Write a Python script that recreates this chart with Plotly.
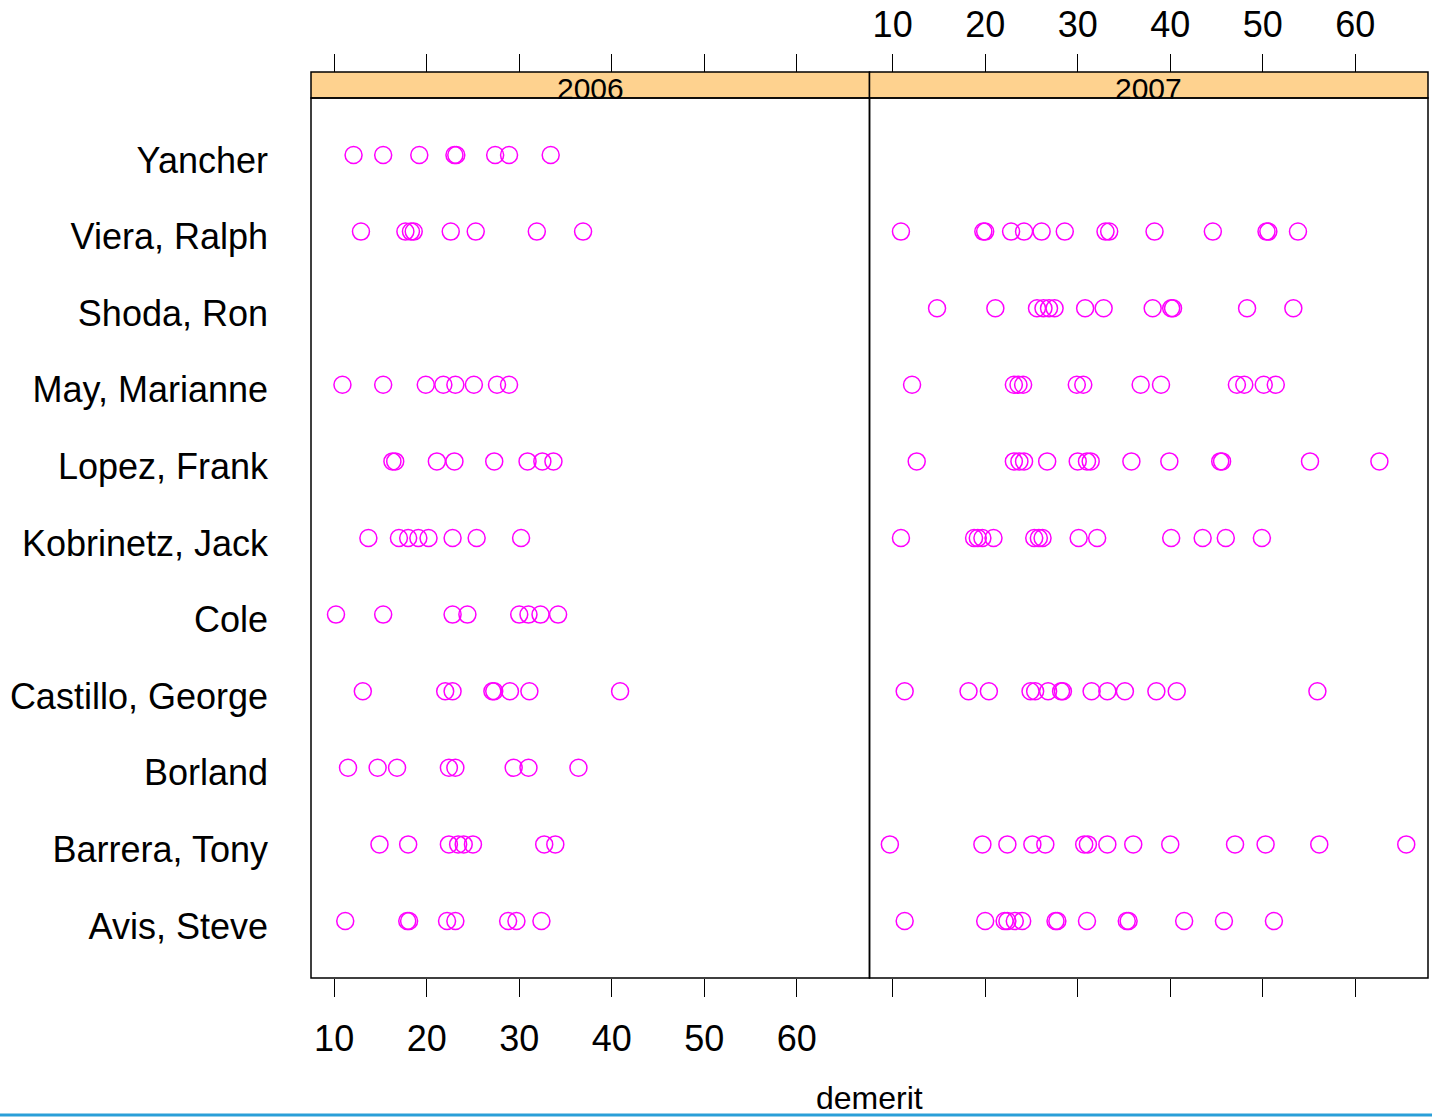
import plotly.graph_objects as go

# Inspector names, bottom row first
names = ["Avis, Steve", "Barrera, Tony", "Borland", "Castillo, George", "Cole",
         "Kobrinetz, Jack", "Lopez, Frank", "May, Marianne", "Shoda, Ron",
         "Viera, Ralph", "Yancher"]

# Demerit scores, 2006
avis_2006 = [11.2, 17.9, 18.1, 22.2, 23.1, 28.8, 29.7, 32.4]
barrera_2006 = [14.9, 18.0, 22.4, 23.4, 24.0, 25.0, 32.7, 33.9]
borland_2006 = [11.5, 14.7, 16.8, 22.4, 23.1, 29.4, 31.0, 36.4]
castillo_2006 = [13.1, 22.0, 22.8, 27.1, 27.3, 29.0, 31.1, 40.9]
cole_2006 = [10.2, 15.3, 22.8, 24.4, 30.0, 31.0, 32.3, 34.2]
kobrinetz_2006 = [13.7, 17.0, 18.0, 19.1, 20.2, 22.8, 25.4, 30.2]
lopez_2006 = [16.3, 16.6, 21.1, 23.0, 27.3, 30.9, 32.5, 33.7]
may_2006 = [10.9, 15.3, 19.9, 21.8, 23.1, 25.1, 27.6, 28.9]
shoda_2006 = []
viera_2006 = [12.9, 17.7, 18.3, 18.6, 22.6, 25.3, 31.9, 36.9]
yancher_2006 = [12.1, 15.3, 19.2, 23.0, 23.2, 27.4, 28.9, 33.4]

# Demerit scores, 2007
avis_2007 = [11.3, 20.0, 22.1, 22.4, 23.2, 24.0, 27.6, 27.8, 31.0, 35.3, 35.5, 41.5, 45.8, 51.2]
barrera_2007 = [9.7, 19.7, 22.4, 25.1, 26.5, 30.7, 31.1, 33.2, 36.0, 40.0, 47.0, 50.3, 56.1, 65.5]
borland_2007 = []
castillo_2007 = [11.3, 18.2, 20.4, 24.9, 25.4, 26.8, 28.2, 28.4, 31.5, 33.2, 35.1, 38.5, 40.7, 55.9]
cole_2007 = []
kobrinetz_2007 = [10.9, 18.8, 19.2, 19.7, 20.9, 25.3, 25.8, 26.2, 30.1, 32.1, 40.1, 43.5, 46.0, 49.9]
lopez_2007 = [12.6, 23.1, 23.7, 24.2, 26.7, 30.0, 31.0, 31.4, 35.8, 39.9, 45.4, 45.6, 55.1, 62.6]
may_2007 = [12.1, 23.1, 23.6, 24.1, 29.9, 30.6, 36.8, 39.0, 47.2, 48.0, 50.1, 51.4]
shoda_2007 = [14.8, 21.1, 25.6, 26.3, 26.9, 27.5, 30.8, 32.8, 38.1, 40.1, 40.3, 48.3, 53.3]
viera_2007 = [10.9, 19.8, 20.0, 22.8, 24.2, 26.1, 28.6, 33.0, 33.4, 38.3, 44.6, 50.4, 50.6, 53.8]
yancher_2007 = []

years = ["2006", "2007"]
tick_values = [10, 20, 30, 40, 50, 60]

rows_2006 = [avis_2006, barrera_2006, borland_2006, castillo_2006, cole_2006,
             kobrinetz_2006, lopez_2006, may_2006, shoda_2006, viera_2006, yancher_2006]
rows_2007 = [avis_2007, barrera_2007, borland_2007, castillo_2007, cole_2007,
             kobrinetz_2007, lopez_2007, may_2007, shoda_2007, viera_2007, yancher_2007]

W, H = 1432, 1117
L, R, T, B = 311, 4, 72, 139
PW, PH = W - L - R, H - T - B
y_top = 880 / PH          # panels stop below the strip band
FONT = "Liberation Sans, Arial, Helvetica, sans-serif"
MAGENTA = "#FF00FF"
STRIP = "#FED28F"

x_range = [7.5, 67.85]
y_range = [0.256, 11.744]


def flatten(rows):
    xs, ys = [], []
    for i, vals in enumerate(rows):
        xs.extend(vals)
        ys.extend([i + 1] * len(vals))
    return xs, ys


fig = go.Figure()
for rows, xa, ya in [(rows_2006, "x", "y"), (rows_2007, "x2", "y2")]:
    xs, ys = flatten(rows)
    fig.add_trace(go.Scatter(
        x=xs, y=ys, xaxis=xa, yaxis=ya, mode="markers",
        marker=dict(symbol="circle-open", size=17, color=MAGENTA,
                    line=dict(width=1.5, color=MAGENTA)),
        showlegend=False, hoverinfo="x+y"))

# empty traces so the top tick axes get drawn
for xa, ya in [("x3", "y"), ("x4", "y2")]:
    fig.add_trace(go.Scatter(x=[], y=[], xaxis=xa, yaxis=ya, mode="markers",
                             showlegend=False, hoverinfo="skip"))

tick_common = dict(range=x_range, tickmode="array", tickvals=tick_values,
                   ticks="outside", ticklen=18, tickwidth=1.3, tickcolor="black",
                   showgrid=False, zeroline=False, showline=False, automargin=False,
                   tickfont=dict(size=36, color="black", family=FONT))

fig.update_layout(
    width=W, height=H,
    margin=dict(l=L, r=R, t=T, b=B, autoexpand=False),
    paper_bgcolor="white", plot_bgcolor="white",
    font=dict(family=FONT, color="black"),
    xaxis=dict(domain=[0, 0.5], anchor="y", showticklabels=True,
               ticklabelstandoff=11, **tick_common),
    xaxis2=dict(domain=[0.5, 1], anchor="y2", showticklabels=False, **tick_common),
    xaxis3=dict(domain=[0, 0.5], overlaying="x", side="top", anchor="free",
                position=1, showticklabels=False, **tick_common),
    xaxis4=dict(domain=[0.5, 1], overlaying="x2", side="top", anchor="free",
                position=1, showticklabels=True, ticklabelstandoff=3, **tick_common),
    yaxis=dict(domain=[0, y_top], anchor="x", range=y_range, tickmode="array",
               tickvals=list(range(1, len(names) + 1)), ticktext=names,
               ticks="", showgrid=False, zeroline=False, showline=False,
               automargin=False, ticklabelstandoff=42, ticklabelshift=5,
               tickfont=dict(size=36, color="black", family=FONT)),
    yaxis2=dict(domain=[0, y_top], anchor="x2", range=y_range, matches="y",
                showticklabels=False, ticks="", showgrid=False, zeroline=False,
                showline=False, automargin=False),
)

shapes = []
annotations = []
for xa, ya, year in [("x", "y", years[0]), ("x2", "y2", years[1])]:
    # strip band above each panel
    shapes.append(dict(type="rect", xref=f"{xa} domain", yref="paper",
                       x0=0, x1=1, y0=y_top, y1=1, fillcolor=STRIP,
                       line=dict(color="black", width=1.5), layer="below"))
    # panel frame
    shapes.append(dict(type="rect", xref=f"{xa} domain", yref=f"{ya} domain",
                       x0=0, x1=1, y0=0, y1=1,
                       line=dict(color="black", width=1.5)))
    annotations.append(dict(text=year, xref=f"{xa} domain", yref="paper",
                            x=0.5, y=(978 - 89) / PH, xanchor="center",
                            yanchor="middle", showarrow=False,
                            font=dict(size=30, color="black", family=FONT)))

annotations.append(dict(text="demerit", xref="paper", yref="paper",
                        x=0.5, y=(978 - 1098) / PH, xanchor="center",
                        yanchor="middle", showarrow=False,
                        font=dict(size=32, color="black", family=FONT)))

# thin rule along the bottom edge
shapes.append(dict(type="line", xref="paper", yref="paper",
                   x0=-L / PW, x1=(W - L) / PW,
                   y0=(978 - 1115) / PH, y1=(978 - 1115) / PH,
                   line=dict(color="#2A9FD8", width=3)))

fig.update_layout(shapes=shapes, annotations=annotations)
fig.write_html("out.html")
